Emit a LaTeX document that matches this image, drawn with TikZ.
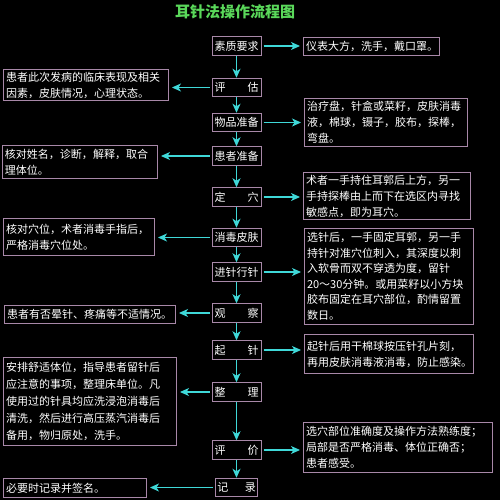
\documentclass[tikz,border=0pt]{standalone}
\usepackage{fontspec}
\setmainfont{Noto Sans CJK SC}
\usetikzlibrary{arrows.meta}
\definecolor{boxline}{HTML}{A888A8}
\definecolor{flowcyan}{HTML}{3FD8D8}
\definecolor{titlegreen}{HTML}{5AD85A}

\begin{document}
\begin{tikzpicture}[x=1pt, y=-1pt, >={Stealth[length=9pt,width=8pt,inset=2.5pt]},
  stepbox/.style={draw=boxline, line width=1pt, text=white, minimum width=49pt, minimum height=18.5pt, inner sep=1pt, font=\fontsize{11}{14}\selectfont},
  note/.style={draw=boxline, line width=1pt, text=white, anchor=north west, align=left, inner sep=2.5pt, font=\fontsize{11}{16}\selectfont},
  flow/.style={->, draw=flowcyan, fill=flowcyan, line width=1.1pt, shorten <=2pt, shorten >=3pt}]
\fill[black] (0,0) rectangle (500,500);
\useasboundingbox (0,0) rectangle (500,500);
\node[text=titlegreen, font=\fontsize{15}{18}\bfseries\selectfont] (title) at (235,12) {耳针法操作流程图};

% main column
\node[stepbox] (s1) at (236.5,46) {素质要求};
\node[stepbox] (s2) at (236.5,87.5) {评\hspace{2em}估};
\node[stepbox] (s3) at (236.5,122.5) {物品准备};
\node[stepbox] (s4) at (236.5,156) {患者准备};
\node[stepbox] (s5) at (236.5,197) {定\hspace{2em}穴};
\node[stepbox] (s6) at (236.5,237.5) {消毒皮肤};
\node[stepbox] (s7) at (236.5,272) {进针行针};
\node[stepbox] (s8) at (236.5,313) {观\hspace{2em}察};
\node[stepbox] (s9) at (236.5,350) {起\hspace{2em}针};
\node[stepbox] (s10) at (236.5,392) {整\hspace{2em}理};
\node[stepbox] (s11) at (236.5,450) {评\hspace{2em}价};
\node[stepbox, minimum width=42pt] (s12) at (236.5,487.5) {记\hspace{1.5em}录};

% side notes
\node[note, text width=131pt, minimum height=18pt] (r1) at (303,37) {仪表大方，洗手，戴口罩。};
\node[note, text width=160pt, minimum height=31pt] (l2) at (3,69) {患者此次发病的临床表现及相关\\因素，皮肤情况，心理状态。};
\node[note, text width=158pt, minimum height=48pt] (r3) at (304,98) {治疗盘，针盒或菜籽，皮肤消毒\\液，棉球，镊子，胶布，探棒，\\弯盘。};
\node[note, text width=150pt, minimum height=33pt] (l4) at (2,145) {核对姓名，诊断，解释，取合\\理体位。};
\node[note, text width=162pt, minimum height=45pt] (r5) at (303,172) {术者一手持住耳郭后上方，另一\\手持探棒由上而下在选区内寻找\\敏感点，即为耳穴。};
\node[note, text width=146pt, minimum height=37pt] (l6) at (3,218) {核对穴位，术者消毒手指后，\\严格消毒穴位处。};
\node[note, text width=164pt, minimum height=96pt, font=\fontsize{11}{15.5}\selectfont] (r7) at (304,228) {选针后，一手固定耳郭，另一手\\持针对准穴位刺入，其深度以刺\\入软骨而双不穿透为度，留针\\20～30分钟。或用菜籽以小方块\\胶布固定在耳穴部位，酌情留置\\数日。};
\node[note, text width=166pt, minimum height=18pt] (l8) at (4,305) {患者有否晕针、疼痛等不适情况。};
\node[note, text width=164pt, minimum height=39pt] (r9) at (304,334) {起针后用干棉球按压针孔片刻，\\再用皮肤消毒液消毒，防止感染。};
\node[note, text width=168pt, minimum height=88pt, font=\fontsize{11}{17}\selectfont] (l10) at (3,357) {安排舒适体位，指导患者留针后\\应注意的事项，整理床单位。凡\\使用过的针具均应洗浸泡消毒后\\清洗，然后进行高压蒸汽消毒后\\备用，物归原处，洗手。};
\node[note, text width=184pt, minimum height=50pt] (r11) at (303,422) {选穴部位准确度及操作方法熟练度；\\局部是否严格消毒、体位正确否；\\患者感受。};
\node[note, text width=138pt, minimum height=19pt] (l12) at (3,478) {必要时记录并签名。};

% arrows down the column
\foreach \a/\b in {s1/s2, s2/s3, s3/s4, s4/s5, s5/s6, s6/s7, s7/s8, s8/s9, s9/s10, s10/s11, s11/s12}
  \draw[flow, shorten <=0pt, shorten >=0pt] (\a.south) -- (\b.north);

% arrows to the notes
\foreach \a/\b in {s1/r1, s3/r3, s5/r5, s7/r7, s9/r9, s11/r11}
  \draw[flow] (\a.east) -- (\a.east -| \b.west);
\foreach \a/\b in {s2/l2, s4/l4, s6/l6, s8/l8, s10/l10, s12/l12}
  \draw[flow] (\a.west) -- (\a.west -| \b.east);
\end{tikzpicture}
\end{document}
